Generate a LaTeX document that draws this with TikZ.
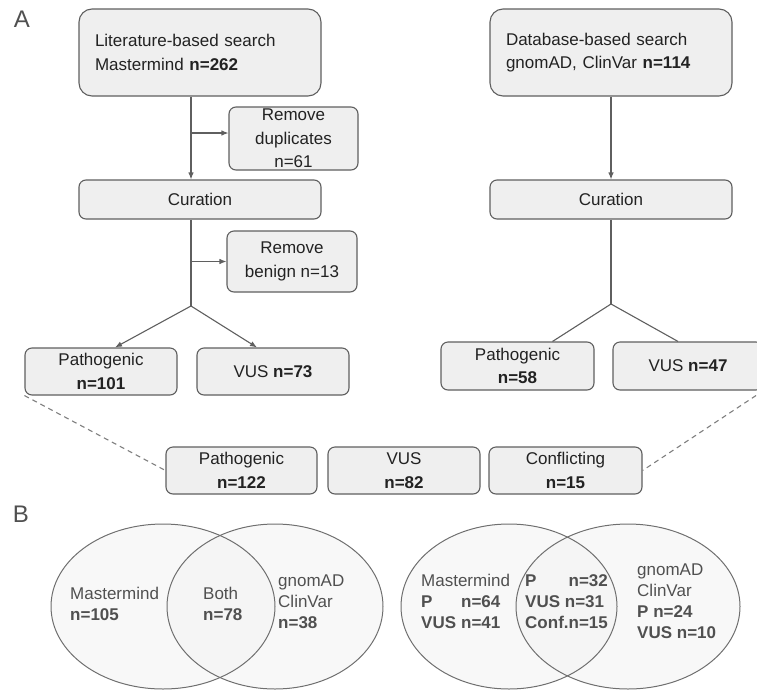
\documentclass[tikz,border=0pt]{standalone}
\usepackage{fontspec}
\setmainfont{Liberation Sans}
\usetikzlibrary{positioning,arrows.meta,calc}
\definecolor{boxfill}{HTML}{EFEFEF}
\definecolor{edgegray}{HTML}{5F5F5F}
\definecolor{txtgray}{HTML}{222222}
\definecolor{venngray}{HTML}{505050}

\tikzset{
  box/.style={draw=edgegray, fill=boxfill, line width=1.1pt, rounded corners=7pt, align=center, inner sep=0pt, text=txtgray, font=\fontsize{17}{23.5}\selectfont},
  bigbox/.style={box, rounded corners=13pt, minimum width=242pt, minimum height=87pt, text width=210pt, align=left},
  flow/.style={draw=edgegray, line width=1.1pt},
  arr/.style={flow, -{Latex[length=7pt,width=5.5pt]}},
  link/.style={draw=edgegray!80, line width=1.1pt, dash pattern=on 5pt off 4pt},
  vennfill/.style={fill=black!5, fill opacity=0.5},
  vennline/.style={draw=edgegray!90, line width=1pt},
  vtext/.style={text=venngray, align=left, anchor=west, inner sep=0pt, font=\fontsize{17}{21}\selectfont},
  panel/.style={text=venngray, inner sep=0pt, font=\fontsize{24}{24}\selectfont}
}

\begin{document}
\begin{tikzpicture}[x=1pt, y=-1pt, line join=round]
\useasboundingbox (0,0) rectangle (757,691);
\node[panel] (lblA) at (22,19) {A};
\node[panel] (lblB) at (21,514) {B};
% panel A, left branch
\node[bigbox] (lit) at (200,52.5) {Literature-based search\\Mastermind \textbf{n=262}};
\node[box, minimum width=129pt, minimum height=63pt] (dup) at (293.5,138.5) {Remove\\duplicates\\n=61};
\node[box, minimum width=242pt, minimum height=39pt] (curL) at (200,199.5) {Curation};
\node[box, minimum width=130pt, minimum height=61pt] (benign) at (292,261.5) {Remove\\benign n=13};
\node[box, minimum width=152pt, minimum height=47pt] (patL) at (101,371.5) {Pathogenic\\\textbf{n=101}};
\node[box, minimum width=152pt, minimum height=47pt] (vusL) at (273,371.5) {VUS \textbf{n=73}};
% panel A, right branch
\node[bigbox] (db) at (611,52.5) {Database-based search\\gnomAD, ClinVar \textbf{n=114}};
\node[box, minimum width=242pt, minimum height=39pt] (curR) at (611,199.5) {Curation};
\node[box, minimum width=153pt, minimum height=48pt] (patR) at (517.5,366) {Pathogenic\\\textbf{n=58}};
\node[box, minimum width=150pt, minimum height=48pt] (vusR) at (688,366) {VUS \textbf{n=47}};
% merged
\node[box, minimum width=151pt, minimum height=47pt] (patAll) at (241.5,470.5) {Pathogenic\\\textbf{n=122}};
\node[box, minimum width=152pt, minimum height=47pt] (vusAll) at (404,470.5) {VUS\\\textbf{n=82}};
\node[box, minimum width=153pt, minimum height=47pt] (conf) at (565.5,470.5) {Conflicting\\\textbf{n=15}};

\coordinate (splitL) at (191,306);
\coordinate (splitR) at (611,304);
\draw[arr] ([xshift=-9pt]lit.south) -- ([xshift=-9pt]curL.north);
\draw[arr] ([yshift=5.5pt]dup.west -| splitL) -- ([yshift=5.5pt]dup.west);
\draw[flow] ([xshift=-9pt]curL.south) -- (splitL);
\draw[arr] (benign.west -| splitL) -- (benign.west);
\draw[arr] (splitL) -- ([xshift=14pt]patL.north);
\draw[arr] (splitL) -- ([xshift=-16pt]vusL.north);
\draw[arr] (db.south) -- (curR.north);
\draw[flow] (curR.south) -- (splitR);
\draw[flow] (splitR) -- ([xshift=35pt]patR.north);
\draw[flow] (splitR) -- ([xshift=-10pt]vusR.north);
\draw[link] (patL.south west) -- (patAll.west);
\draw[link] (vusR.south east) -- (conf.east);

% panel B
\foreach \cx/\rx in {163/112, 275/108, 509/108, 628/112}
  \fill[vennfill] (\cx,606.5) ellipse [x radius=\rx pt, y radius=82.5pt];
\foreach \cx/\rx in {163/112, 275/108, 509/108, 628/112}
  \draw[vennline] (\cx,606.5) ellipse [x radius=\rx pt, y radius=82.5pt];
\node[vtext] (mm1) at (70,603.5) {Mastermind\\\textbf{n=105}};
\node[vtext] (both1) at (203,603.5) {Both\\\textbf{n=78}};
\node[vtext] (gc1) at (278,602) {gnomAD\\ClinVar\\\textbf{n=38}};
\node[vtext] (mm2) at (421,603) {\begin{tabular}{@{}l@{\hspace{5pt}}r@{}l@{}}\multicolumn{3}{@{}l@{}}{Mastermind}\\\textbf{P}&\textbf{n=64}&\\\textbf{VUS}&\textbf{n=41}&\end{tabular}};
\node[vtext] (both2) at (525,603) {\begin{tabular}{@{}l@{}r@{}}\textbf{P}&\textbf{n=32}\\\multicolumn{2}{@{}l@{}}{\textbf{VUS n=31}}\\\textbf{Conf.}&\textbf{n=15}\end{tabular}};
\node[vtext] (gc2) at (637,601.5) {gnomAD\\ClinVar\\\textbf{P n=24}\\\textbf{VUS n=10}};
\end{tikzpicture}
\end{document}
